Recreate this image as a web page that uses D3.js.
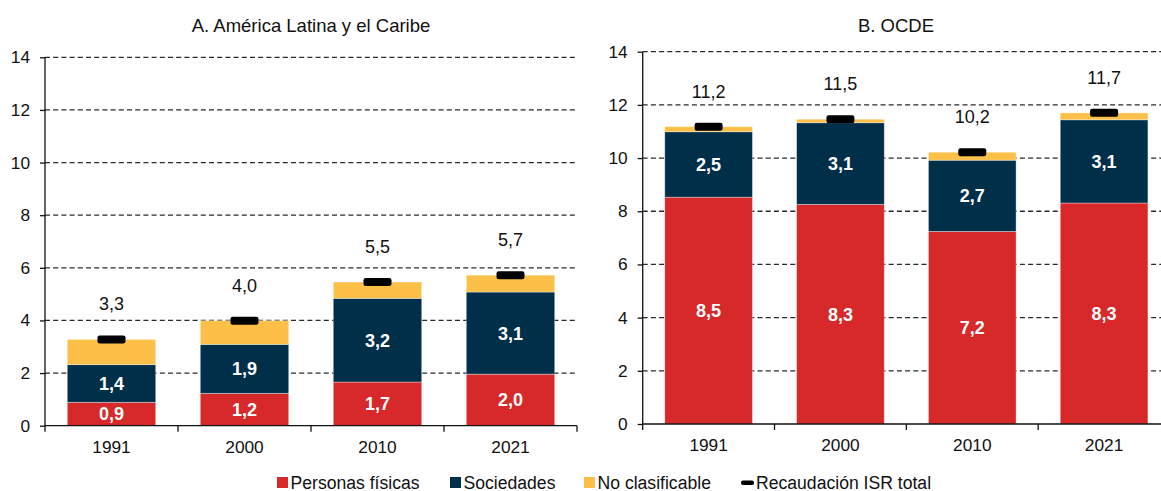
<!DOCTYPE html>
<html>
<head>
<meta charset="utf-8">
<script src="https://cdn.jsdelivr.net/npm/d3@7"></script>
<style>
  html, body { margin: 0; padding: 0; background: #ffffff; }
  svg { display: block; font-family: "Liberation Sans", Arial, sans-serif; }
</style>
</head>
<body>
<svg id="chart" width="1161" height="491"></svg>
<script>
// ---- Data ----
const years = ["1991", "2000", "2010", "2021"];
const yTicks = [0, 2, 4, 6, 8, 10, 12, 14];

// A. América Latina y el Caribe
const alcPersonas    = [0.89, 1.23, 1.66, 1.96];
const alcSociedades  = [1.43, 1.86, 3.18, 3.12];
const alcNoClasif    = [0.96, 0.90, 0.62, 0.64];
const alcTotal       = [3.28, 3.99, 5.46, 5.72];

// B. OCDE
const ocdePersonas   = [8.53, 8.26, 7.24, 8.31];
const ocdeSociedades = [2.46, 3.07, 2.68, 3.13];
const ocdeNoClasif   = [0.19, 0.13, 0.30, 0.26];
const ocdeTotal      = [11.18, 11.46, 10.22, 11.70];

const seriesNames = ["Personas físicas", "Sociedades", "No clasificable"];
const totalName = "Recaudación ISR total";
const titles = ["A. América Latina y el Caribe", "B. OCDE"];

// ---- Styles ----
const colors = ["#d7282a", "#002f4a", "#fcbf47"];
const FONT = '"Liberation Sans", Arial, sans-serif';
const fmt = v => v.toFixed(1).replace(".", ",");

const svg = d3.select("#chart");

function panel(cfg) {
  const x = d3.scaleBand().domain(years)
    .range([cfg.x0, cfg.x1]).paddingInner(0.335).paddingOuter(0.1675);
  const y = d3.scaleLinear().domain([0, 14]).range([cfg.yb, cfg.yt]);
  const g = svg.append("g");

  // title
  g.append("text").attr("x", cfg.titleX).attr("y", 31.5)
    .attr("text-anchor", "middle").attr("font-size", 18.5).attr("fill", "#111")
    .text(cfg.title);

  // gridlines
  g.append("g").selectAll("line").data(yTicks.filter(d => d > 0)).join("line")
    .attr("x1", cfg.x0).attr("x2", cfg.x1)
    .attr("y1", d => y(d)).attr("y2", d => y(d))
    .attr("stroke", "#2a2a2a").attr("stroke-width", 1.3)
    .attr("stroke-dasharray", "5,3.2");

  // stacked bars
  const rows = years.map((yr, i) => ({ yr, vals: [cfg.pf[i], cfg.soc[i], cfg.nc[i]], total: cfg.tot[i] }));
  rows.forEach(r => {
    let acc = 0;
    r.vals.forEach((v, k) => {
      const y0 = acc, y1 = acc + v;
      g.append("rect")
        .attr("x", x(r.yr)).attr("width", x.bandwidth())
        .attr("y", y(y1)).attr("height", y(y0) - y(y1))
        .attr("fill", colors[k])
        .attr("stroke", "rgba(255,255,255,0.45)").attr("stroke-width", 0.8);
      if (k < 2) {
        g.append("text")
          .attr("x", x(r.yr) + x.bandwidth() / 2)
          .attr("y", (y(y0) + y(y1)) / 2)
          .attr("dy", "0.36em")
          .attr("text-anchor", "middle").attr("font-size", 18).attr("font-weight", "bold")
          .attr("fill", "#ffffff").text(fmt(v));
      }
      acc = y1;
    });
    // total marker
    g.append("rect")
      .attr("x", x(r.yr) + x.bandwidth() / 2 - 14).attr("width", 28)
      .attr("y", y(r.total) - 4).attr("height", 8).attr("rx", 2.2)
      .attr("fill", "#000");
    g.append("text")
      .attr("x", x(r.yr) + x.bandwidth() / 2).attr("y", y(r.total) - 29)
      .attr("text-anchor", "middle").attr("font-size", 18).attr("fill", "#111")
      .text(fmt(r.total));
  });

  // y axis
  const ya = d3.axisLeft(y).tickValues(yTicks).tickSize(5).tickPadding(10).tickFormat(d3.format("d"));
  const yg = g.append("g").attr("transform", `translate(${cfg.x0},0)`).call(ya);
  yg.select(".domain").attr("stroke", "#111").attr("stroke-width", 1.3).attr("d", `M0,${cfg.yb}V${cfg.yt}`);
  yg.selectAll(".tick line").attr("stroke", "#111").attr("stroke-width", 1.3);
  yg.selectAll(".tick text").attr("font-size", 17.3).attr("font-family", FONT).attr("fill", "#111");

  // x axis
  const xa = d3.axisBottom(x).tickSize(0).tickPadding(15);
  const xg = g.append("g").attr("transform", `translate(0,${cfg.yb})`).call(xa);
  xg.select(".domain").attr("stroke", "#111").attr("stroke-width", 1.3).attr("d", `M${cfg.x0},0H${cfg.x1}`);
  xg.selectAll(".tick text").attr("font-size", 17.3).attr("font-family", FONT).attr("fill", "#111");
  // category boundary ticks
  const bounds = years.map(yr => x(yr) - (x.step() - x.bandwidth()) / 2).concat([cfg.x1]);
  xg.append("g").selectAll("line").data(bounds).join("line")
    .attr("x1", d => d).attr("x2", d => d).attr("y1", 0).attr("y2", 6)
    .attr("stroke", "#111").attr("stroke-width", 1.3);
}

panel({ title: titles[0], titleX: 311, x0: 45, x1: 577, yb: 425.7, yt: 57.3,
        pf: alcPersonas, soc: alcSociedades, nc: alcNoClasif, tot: alcTotal });
panel({ title: titles[1], titleX: 896, x0: 642.7, x1: 1170, yb: 424, yt: 51.7,
        pf: ocdePersonas, soc: ocdeSociedades, nc: ocdeNoClasif, tot: ocdeTotal });

// ---- Legend ----
const legendItems = [
  { name: seriesNames[0], color: colors[0], x: 277, type: "sq" },
  { name: seriesNames[1], color: colors[1], x: 450, type: "sq" },
  { name: seriesNames[2], color: colors[2], x: 584, type: "sq" },
  { name: totalName, color: "#000", x: 741, type: "dash" }
];
const lg = svg.append("g");
legendItems.forEach(it => {
  if (it.type === "sq") {
    lg.append("rect").attr("x", it.x).attr("y", 477).attr("width", 11).attr("height", 11).attr("fill", it.color);
    lg.append("text").attr("x", it.x + 13.5).attr("y", 488.5).attr("font-size", 17.6).attr("fill", "#111").text(it.name);
  } else {
    lg.append("rect").attr("x", it.x).attr("y", 480.5).attr("width", 13).attr("height", 4.5).attr("rx", 2).attr("fill", it.color);
    lg.append("text").attr("x", it.x + 15).attr("y", 488.5).attr("font-size", 17.6).attr("fill", "#111").text(it.name);
  }
});
</script>
</body>
</html>
